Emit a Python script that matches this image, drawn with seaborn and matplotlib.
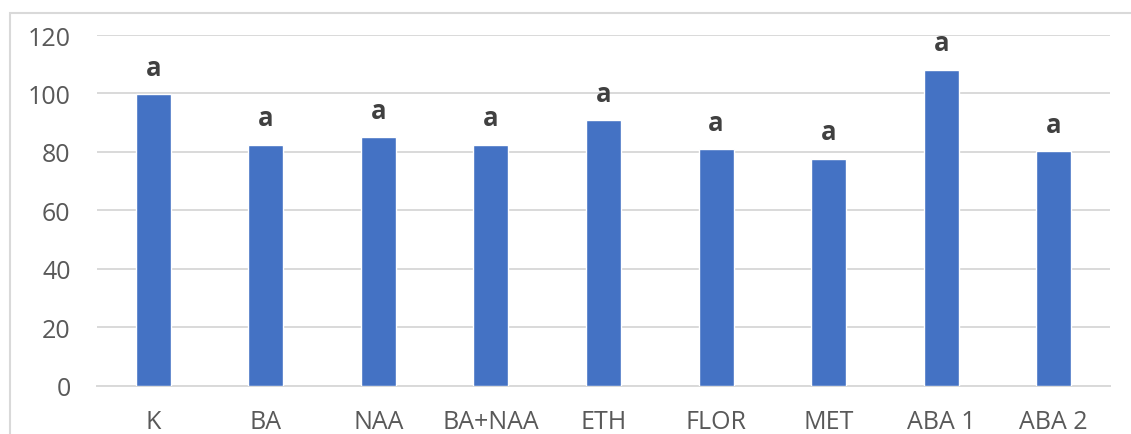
import matplotlib
matplotlib.use("Agg")
import matplotlib.pyplot as plt
from matplotlib.patches import Rectangle
import seaborn as sns
import pandas as pd

categories = ["K", "BA", "NAA", "BA+NAA", "ETH", "FLOR", "MET", "ABA 1", "ABA 2"]
values = [99.7, 82.5, 85.1, 82.4, 90.9, 81.0, 77.7, 108.1, 80.2]
letters = ["a", "a", "a", "a", "a", "a", "a", "a", "a"]
y_ticks = [0, 20, 40, 60, 80, 100, 120]

sns.set_theme(style="white")
plt.rcParams["font.family"] = ["Open Sans", "DejaVu Sans"]

df = pd.DataFrame({"treatment": categories, "value": values})

fig = plt.figure(figsize=(11.31, 4.35), dpi=100)
ax = fig.add_axes([97 / 1131, 1 - 386.7 / 435, (1110 - 97) / 1131, (386.7 - 36) / 435])

sns.barplot(data=df, x="treatment", y="value", color="#4472C4", saturation=1,
            width=0.31, ax=ax, zorder=3)

ax.set_ylim(0, 120)
ax.set_xlim(-0.5, len(categories) - 0.5)
ax.set_yticks(y_ticks)
ax.set_yticklabels([str(t) for t in y_ticks])
ax.yaxis.grid(True, color="#d9d9d9", linewidth=1.4, zorder=0)
ax.xaxis.grid(False)
ax.set_axisbelow(True)
for side in ["top", "right", "left"]:
    ax.spines[side].set_visible(False)
ax.spines["bottom"].set_color("#d9d9d9")
ax.spines["bottom"].set_linewidth(1.4)
ax.set_xlabel("")
ax.set_ylabel("")
ax.tick_params(axis="y", length=0, pad=19, labelsize=18, labelcolor="#595959")
ax.tick_params(axis="x", length=0, pad=17, labelsize=18, labelcolor="#595959")

# significance letters above each bar
for i, (v, lab) in enumerate(zip(values, letters)):
    ax.annotate(lab, xy=(i, v), xytext=(0, 14), textcoords="offset points",
                ha="center", va="baseline", fontsize=18.5, fontweight="bold",
                color="#404040")

# light chart-area frame
fig.patches.append(Rectangle((10 / 1131, -0.05), 1.1, 1.05 - 14 / 435,
                             transform=fig.transFigure, fill=False,
                             edgecolor="#d9d9d9", linewidth=1.5, zorder=0))

fig.savefig("out.png", dpi=100, facecolor="white")
